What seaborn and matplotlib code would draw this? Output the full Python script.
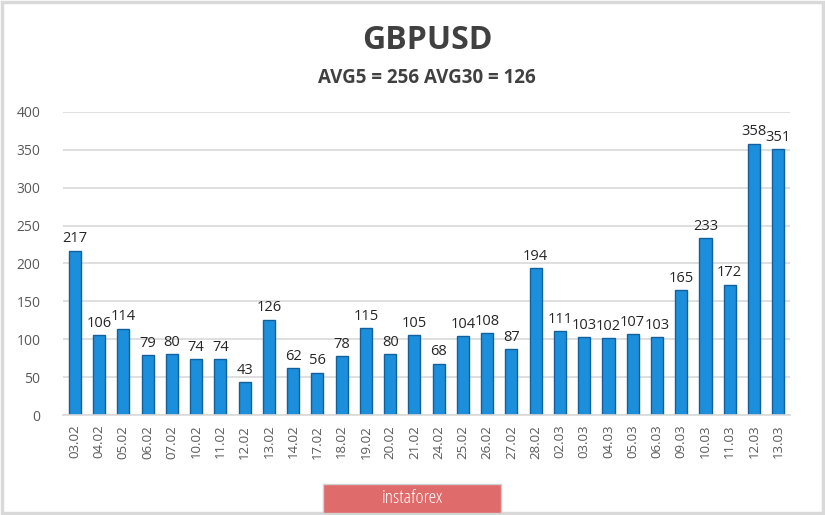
import matplotlib
matplotlib.use("Agg")
import matplotlib.pyplot as plt
import seaborn as sns
import pandas as pd
from matplotlib.patches import Rectangle

# DATA
dates = ["03.02", "04.02", "05.02", "06.02", "07.02", "10.02", "11.02", "12.02",
         "13.02", "14.02", "17.02", "18.02", "19.02", "20.02", "21.02", "24.02",
         "25.02", "26.02", "27.02", "28.02", "02.03", "03.03", "04.03", "05.03",
         "06.03", "09.03", "10.03", "11.03", "12.03", "13.03"]
values = [217, 106, 114, 79, 80, 74, 74, 43, 126, 62, 56, 78, 115, 80, 105, 68,
          104, 108, 87, 194, 111, 103, 102, 107, 103, 165, 233, 172, 358, 351]
yticks = [0, 50, 100, 150, 200, 250, 300, 350, 400]

title = "GBPUSD"
subtitle = "AVG5 = 256 AVG30 = 126"

df = pd.DataFrame({"date": dates, "value": values})

sns.set_style("white")
plt.rcParams["font.family"] = ["Open Sans", "DejaVu Sans"]

fig = plt.figure(figsize=(8.25, 5.15), dpi=100)
ax = fig.add_axes([0.076, 0.194, 0.882, 0.589])

sns.barplot(data=df, x="date", y="value", color="#1c8fdc", width=0.5,
            edgecolor="#12609c", linewidth=1.0, saturation=1, ax=ax)

for c in ax.containers:
    ax.bar_label(c, padding=3, fontsize=10.5, color="#262626")

ax.set_ylim(0, 400)
ax.set_xlim(-0.5, len(dates) - 0.5)
ax.set_yticks(yticks)
ax.yaxis.grid(True, color="#d9d9d9", linewidth=1.2)
ax.set_axisbelow(True)
for s in ["top", "right", "left"]:
    ax.spines[s].set_visible(False)
ax.spines["bottom"].set_color("#d9d9d9")
ax.spines["bottom"].set_linewidth(1.2)
ax.tick_params(axis="y", length=0, labelsize=10, labelcolor="#595959", pad=16)
ax.tick_params(axis="x", length=0, labelsize=9.5, labelcolor="#595959", rotation=90, pad=7)
ax.set_xlabel("")
ax.set_ylabel("")

fig.text(0.518, 0.922, title, ha="center", va="center", fontsize=23,
         fontweight="bold", color="#404040")
fig.text(0.518, 0.849, subtitle, ha="center", va="center", fontsize=13.5,
         fontweight="bold", color="#404040")

# outer frame
fig.patches.append(Rectangle((0.002, 0.003), 0.996, 0.994, transform=fig.transFigure,
                             fill=False, edgecolor="#d9d9d9", linewidth=2.5))

# watermark box
fig.patches.append(Rectangle((0.392, 0.004), 0.215, 0.057, transform=fig.transFigure,
                             facecolor="#e06b6b", edgecolor="#d0d0d0", linewidth=1))
fig.text(0.4995, 0.033, "instaforex", ha="center", va="center", fontsize=14,
         color="white", fontstretch="condensed")

fig.savefig("out.png", dpi=100)
